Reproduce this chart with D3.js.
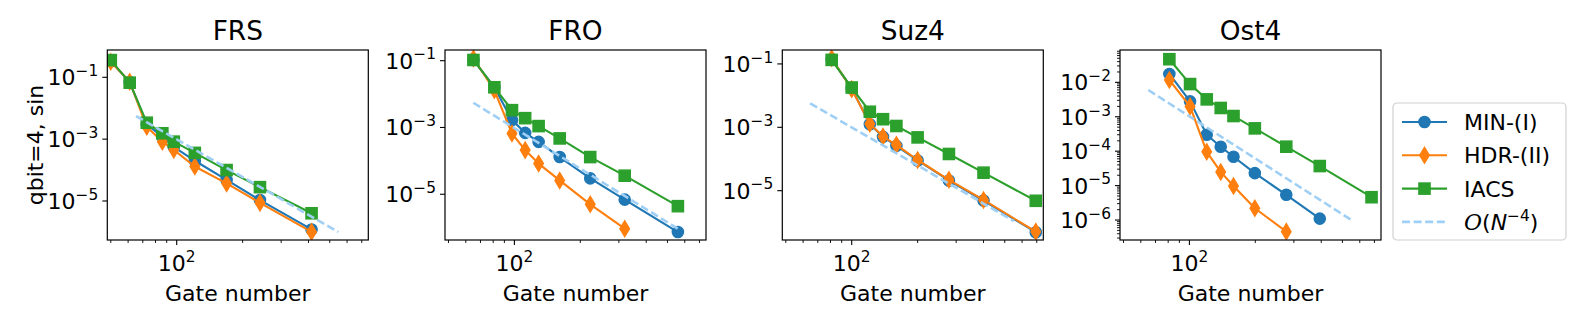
<!DOCTYPE html>
<html>
<head>
<meta charset="UTF-8">
<title>Error vs gate number</title>
<script src="https://d3js.org/d3.v7.min.js"></script>
<style>
  body { margin: 0; background: #fff; }
  svg text { font-family: "DejaVu Sans", sans-serif; fill: #000; }
</style>
</head>
<body>
<svg id="chart" width="1578" height="329"></svg>
<script>
// ---- data ----
const panelTitles = ["FRS", "FRO", "Suz4", "Ost4"];
const seriesNames = ["MIN-(I)", "HDR-(II)", "IACS"];
const seriesColors = ["#1f77b4", "#ff7f0e", "#2ca02c"];
const guideColor = "#9fcff5";

const frsGates = [50, 61, 73, 86, 97, 121, 169, 240, 413];
const frsMin   = [0.33, 0.07, 3.0e-3, 1.2e-3, 5.6e-4, 2.0e-4, 4.8e-5, 1.07e-5, 1.2e-6];
const frsHdr   = [0.32, 0.072, 2.5e-3, 8.3e-4, 4.5e-4, 1.3e-4, 3.7e-5, 8.7e-6, 1.0e-6];
const frsIacs  = [0.36, 0.067, 3.4e-3, 1.55e-3, 8.3e-4, 3.6e-4, 1.0e-4, 2.8e-5, 4.0e-6];

const froGates = [65, 81, 97.5, 112, 129, 161, 222, 319, 558];
const froMin   = [0.105, 0.016, 1.66e-3, 6.9e-4, 3.7e-4, 1.3e-4, 3.0e-5, 6.9e-6, 7.4e-7];
const froHdr   = [0.117, 0.013, 6.6e-4, 2.1e-4, 8.3e-5, 2.6e-5, 5.0e-6, 9.3e-7];
const froIacs  = [0.105, 0.016, 3.3e-3, 1.9e-3, 1.1e-3, 4.7e-4, 1.3e-4, 3.6e-5, 4.4e-6];

const suzGates = [81, 100, 121, 139, 160, 200, 278, 400, 693];
const suzMin   = [0.14, 0.017, 1.25e-3, 5.0e-4, 2.6e-4, 9.0e-5, 2.1e-5, 4.9e-6, 4.9e-7];
const suzHdr   = [0.15, 0.016, 1.3e-3, 5.1e-4, 2.8e-4, 9.3e-5, 2.2e-5, 5.1e-6, 5.1e-7];
const suzIacs  = [0.134, 0.018, 3.1e-3, 1.8e-3, 1.1e-3, 4.8e-4, 1.44e-4, 3.7e-5, 4.8e-6];

const ostGates = [81, 100.7, 120, 139, 159, 199, 277, 394, 679];
const ostMin   = [0.0175, 2.8e-3, 3.0e-4, 1.35e-4, 6.9e-5, 2.3e-5, 5.4e-6, 1.1e-6];
const ostHdr   = [0.0117, 2.0e-3, 9.6e-5, 2.5e-5, 9.7e-6, 2.2e-6, 4.6e-7];
const ostIacs  = [0.047, 8.9e-3, 3.2e-3, 1.8e-3, 1.05e-3, 4.6e-4, 1.35e-4, 3.7e-5, 4.6e-6];

// O(N^-4) guide: end points of the dashed line in each panel
const guideGates = [[65.2, 547], [64.9, 558], [64.6, 550], [64.9, 550]];
const guideErrs  = [[5.6e-3, 1.0e-6], [5.5e-3, 9.3e-7], [5.7e-3, 1.1e-6], [6.0e-3, 1.0e-6]];

// axis limits and ticks
const xLimits = [48.2, 750];
const yLimits = [[5.47e-7, 0.764], [4.27e-7, 0.209], [2.78e-7, 0.275], [2.63e-7, 0.087]];
const xMajorTicks = [100];
const xMinorTicks = [50, 60, 70, 80, 90, 200, 300, 400, 500, 600, 700];
const yMajorTicks = [[-1, -3, -5], [-1, -3, -5], [-1, -3, -5], [-2, -3, -4, -5, -6]];

const panels = [
  { gates: frsGates, series: [frsMin, frsHdr, frsIacs] },
  { gates: froGates, series: [froMin, froHdr, froIacs] },
  { gates: suzGates, series: [suzMin, suzHdr, suzIacs] },
  { gates: ostGates, series: [ostMin, ostHdr, ostIacs] }
];

// ---- layout ----
const panelLeft = [107.3, 445, 782.3, 1120];
const panelTop = 50, panelW = 261, panelH = 190;
const lineW = 2.1, markerSize = 11.2;
const fontSize = 22, titleSize = 26.4;

const svg = d3.select("#chart");

// draws "10^e" as text with a raised exponent
function powerLabel(sel, base, exp, size) {
  sel.append("tspan").text(base);
  sel.append("tspan")
    .attr("font-size", size * 0.7)
    .attr("dy", -size * 0.42)
    .text(exp);
}

function drawMarker(g, kind, color) {
  if (kind === 0) {
    g.append("circle").attr("r", markerSize / 2);
  } else if (kind === 1) {
    const h = markerSize * Math.SQRT2 / 2, w = h * 0.6;
    g.append("path").attr("d", `M0,${-h}L${w},0L0,${h}L${-w},0Z`);
  } else {
    g.append("rect")
      .attr("x", -markerSize / 2).attr("y", -markerSize / 2)
      .attr("width", markerSize).attr("height", markerSize);
  }
  g.selectAll("*").attr("fill", color).attr("stroke", color).attr("stroke-width", 1.4);
}

panels.forEach((p, i) => {
  const g = svg.append("g").attr("transform", `translate(${panelLeft[i]},${panelTop})`);

  const x = d3.scaleLog().domain(xLimits).range([0, panelW]);
  const y = d3.scaleLog().domain(yLimits[i]).range([panelH, 0]);

  const clipId = "clip" + i;
  g.append("clipPath").attr("id", clipId)
    .append("rect").attr("width", panelW).attr("height", panelH);

  const plot = g.append("g").attr("clip-path", `url(#${clipId})`);
  const line = d3.line().x(d => x(d[0])).y(d => y(d[1]));

  p.series.forEach((vals, s) => {
    const pts = vals.map((v, k) => [p.gates[k], v]);
    plot.append("path")
      .attr("d", line(pts))
      .attr("fill", "none")
      .attr("stroke", seriesColors[s])
      .attr("stroke-width", lineW)
      .attr("stroke-linejoin", "round");
    pts.forEach(d => {
      const m = plot.append("g").attr("transform", `translate(${x(d[0])},${y(d[1])})`);
      drawMarker(m, s, seriesColors[s]);
    });
  });

  // dashed N^-4 guide
  plot.append("path")
    .attr("d", line(guideGates[i].map((gx, k) => [gx, guideErrs[i][k]])))
    .attr("fill", "none")
    .attr("stroke", guideColor)
    .attr("stroke-width", 2.6)
    .attr("stroke-dasharray", "8,3.6");

  // x ticks
  const xAxis = g.append("g").attr("transform", `translate(0,${panelH})`);
  xMinorTicks.forEach(t => {
    xAxis.append("line").attr("x1", x(t)).attr("x2", x(t))
      .attr("y1", 0).attr("y2", 3).attr("stroke", "#000").attr("stroke-width", 0.9);
  });
  xMajorTicks.forEach(t => {
    xAxis.append("line").attr("x1", x(t)).attr("x2", x(t))
      .attr("y1", 0).attr("y2", 5).attr("stroke", "#000").attr("stroke-width", 1.1);
    const lab = xAxis.append("text")
      .attr("x", x(t)).attr("y", 31)
      .attr("text-anchor", "middle")
      .attr("font-size", fontSize);
    powerLabel(lab, "10", String(Math.round(Math.log10(t))), fontSize);
  });

  // y ticks
  const yAxis = g.append("g");
  if (i === 3) {
    // minor ticks 2..9 within each decade
    for (let e = -7; e <= -1; e++) {
      for (let m = 2; m <= 9; m++) {
        const v = m * Math.pow(10, e);
        if (v < yLimits[i][0] || v > yLimits[i][1]) continue;
        yAxis.append("line").attr("x1", -3).attr("x2", 0)
          .attr("y1", y(v)).attr("y2", y(v)).attr("stroke", "#000").attr("stroke-width", 0.9);
      }
    }
  }
  yMajorTicks[i].forEach(e => {
    const v = Math.pow(10, e);
    yAxis.append("line").attr("x1", -5).attr("x2", 0)
      .attr("y1", y(v)).attr("y2", y(v)).attr("stroke", "#000").attr("stroke-width", 1.1);
    const lab = yAxis.append("text")
      .attr("x", -9).attr("y", y(v) + 8)
      .attr("text-anchor", "end")
      .attr("font-size", fontSize);
    powerLabel(lab, "10", "\u2212" + Math.abs(e), fontSize);
  });

  // frame
  g.append("rect").attr("width", panelW).attr("height", panelH)
    .attr("fill", "none").attr("stroke", "#000").attr("stroke-width", 1.2);

  g.append("text")
    .attr("x", panelW / 2).attr("y", 40 - panelTop)
    .attr("text-anchor", "middle").attr("font-size", titleSize)
    .text(panelTitles[i]);

  g.append("text")
    .attr("x", panelW / 2).attr("y", 301 - panelTop)
    .attr("text-anchor", "middle").attr("font-size", fontSize)
    .text("Gate number");
});

svg.append("text")
  .attr("transform", `translate(43,${panelTop + panelH / 2}) rotate(-90)`)
  .attr("text-anchor", "middle").attr("font-size", fontSize)
  .text("qbit=4, sin");

// ---- legend ----
const legend = svg.append("g").attr("transform", "translate(1393,103)");
legend.append("rect")
  .attr("width", 173).attr("height", 137).attr("rx", 4)
  .attr("fill", "#fff").attr("stroke", "#d0d0d0").attr("stroke-width", 1.2);

const legendRows = seriesNames.concat(["guide"]);
legendRows.forEach((name, k) => {
  const row = legend.append("g").attr("transform", `translate(0,${19 + k * 33.3})`);
  const color = k < 3 ? seriesColors[k] : guideColor;
  row.append("line").attr("x1", 9).attr("x2", 54).attr("y1", 0).attr("y2", 0)
    .attr("stroke", color)
    .attr("stroke-width", k < 3 ? lineW : 2.6)
    .attr("stroke-dasharray", k < 3 ? null : "8,3.6");
  if (k < 3) drawMarker(row.append("g").attr("transform", "translate(31.5,0)"), k, color);
  const t = row.append("text").attr("x", 71).attr("y", 8).attr("font-size", fontSize);
  if (k < 3) {
    t.text(name);
  } else {
    t.append("tspan").attr("font-family", "DejaVu Serif").attr("font-style", "italic").text("O");
    t.append("tspan").text("(");
    t.append("tspan").attr("font-style", "italic").text("N");
    t.append("tspan").attr("font-size", fontSize * 0.7).attr("dy", -9).text("\u22124");
    t.append("tspan").attr("dy", 9).text(")");
  }
});
</script>
</body>
</html>
